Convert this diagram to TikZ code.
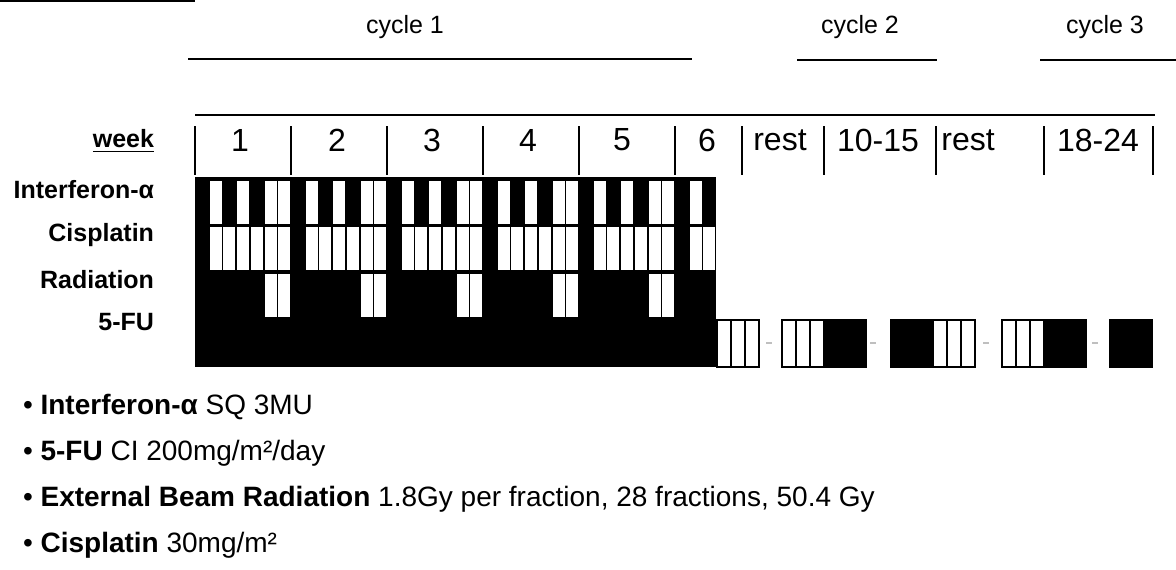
\documentclass[tikz,border=0pt]{standalone}
\usepackage{fontspec}
\setmainfont{Liberation Sans}

\begin{document}
\begin{tikzpicture}[x=.5pt, y=-.5pt, line width=1pt,
	rowlabel/.style={anchor=east, inner sep=0, font=\fontsize{12.5}{15}\selectfont\bfseries},
	weeklabel/.style={inner sep=0, font=\fontsize{16}{19}\selectfont},
	cyclelabel/.style={inner sep=0, font=\fontsize{12.5}{15}\selectfont},
	note/.style={anchor=west, inner sep=0, font=\fontsize{14}{17}\selectfont}]
	\useasboundingbox (0, 0) rectangle (1176, 569);

	% \drawcell#x#y#height#fillcolor
	\def\drawcell#1#2#3#4{
		\filldraw[fill=#4, line width=.45pt] (#1 + .4, #2) rectangle (#1 + 13.4, #2 + #3);
	}

	% values (1 = dose given, 0 = no dose)
	\def\values{{
		1, 0, 1, 0, 1, 0, 0, % interferon
		1, 0, 0, 0, 0, 0, 0, % cisplatin
		1, 1, 1, 1, 1, 0, 0  % radiation
	}}

	% cut title
	\draw[line width=.8pt] (0, 1) -- (195, 1);

	% cycles
	\node[cyclelabel] (cycle1) at (405, 27) {cycle 1};
	\node[cyclelabel] (cycle2) at (860, 27) {cycle 2};
	\node[cyclelabel] (cycle3) at (1105, 27) {cycle 3};
	\draw (188, 59) -- (692, 59);
	\draw (797, 60) -- (937, 60);
	\draw (1040, 60) -- (1176, 60);

	% weeks
	\draw[line width=1.2pt] (195, 115) -- (1155, 115);
	\foreach \x in {195, 291, 387, 483, 579, 675, 742, 824, 936, 1044, 1153} {
		\draw[line width=.8pt] (\x, 126) -- (\x, 175);
	}
	\foreach \x/\t [count=\i] in {240/1, 337/2, 432/3, 528/4, 622/5, 707/6, 780/rest, 878/10-15, 968/rest, 1098/18-24} {
		\node[weeklabel] (week\i) at (\x, 140) {\t};
	}

	% rows
	\node[rowlabel] (weekhead) at (155, 141) {\underline{week}};
	\node[rowlabel] (interferon) at (155, 190) {Interferon-α};
	\node[rowlabel] (cisplatin) at (155, 235) {Cisplatin};
	\node[rowlabel] (radiation) at (155, 280) {Radiation};
	\node[rowlabel] (fu) at (155, 322) {5-FU};

	% cycle 1 days
	\fill (195, 177) rectangle (716, 367);
	\foreach \d in {0, ..., 37} {
		\foreach \r in {0, 1, 2} {
			\pgfmathtruncatemacro\cellval{\values[7 * \r + mod(\d, 7)]}
			\ifnum\cellval=0
				\drawcell{195 + 13.714 * \d}{180 + 46.5 * \r}{44}{white}
			\fi
		}
	}

	% 5-FU after cycle 1
	\foreach \x/\c in {717/white, 731/white, 745/white,
		782/white, 796/white, 810/white, 824/black, 838/black, 852/black,
		891/black, 905/black, 919/black, 933/white, 947/white, 961/white,
		1002/white, 1016/white, 1030/white, 1044/black, 1058/black, 1072/black,
		1110/black, 1124/black, 1138/black} {
		\filldraw[fill=\c, line width=.8pt] (\x, 320) rectangle +(14, 47);
	}
	\foreach \x in {769, 873, 986, 1095} {
		\draw[gray!50, line width=.6pt] (\x - 3, 343) -- (\x + 3, 343);
	}

	% notes
	\node[note] (note1) at (22, 407) {• \textbf{Interferon-α} SQ 3MU};
	\node[note] (note2) at (22, 453) {• \textbf{5-FU} CI 200mg/m²/day};
	\node[note] (note3) at (22, 499) {• \textbf{External Beam Radiation} 1.8Gy per fraction, 28 fractions, 50.4 Gy};
	\node[note] (note4) at (22, 545) {• \textbf{Cisplatin} 30mg/m²};
\end{tikzpicture}
\end{document}
